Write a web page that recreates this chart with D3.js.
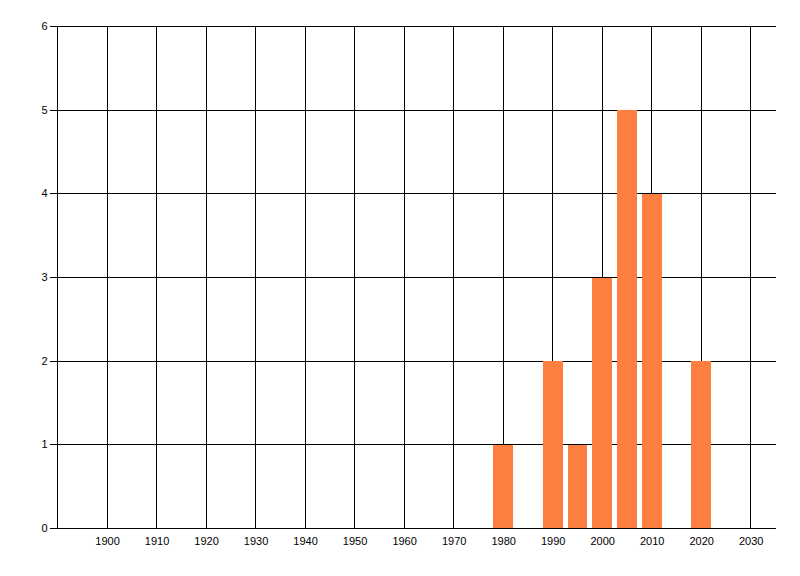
<!DOCTYPE html>
<html lang="en">
<head>
<meta charset="UTF-8">
<title>Count by year</title>
<script src="https://d3js.org/d3.v7.min.js"></script>
<style>
    body { margin: 0; background: #fff; }
    .tick text { font-family: "Liberation Sans", Arial, sans-serif; font-size: 11px; fill: #000; }
    .grid line { stroke: #000; stroke-width: 1; shape-rendering: crispEdges; }
    .bar { fill: #ff7f41; shape-rendering: crispEdges; }
</style>
</head>
<body>
<svg id="chart" width="800" height="576"></svg>
<script>
    // data
    const years = [1980, 1990, 1995, 2000, 2005, 2010, 2020];
    const counts = [1, 2, 1, 3, 5, 4, 2];
    const xTicks = [1900, 1910, 1920, 1930, 1940, 1950, 1960, 1970, 1980, 1990, 2000, 2010, 2020, 2030];
    const yTicks = [0, 1, 2, 3, 4, 5, 6];
    const barYears = 4;

    const data = years.map((yr, i) => ({year: yr, value: counts[i]}));

    const svg = d3.select("#chart");

    const x = d3.scaleLinear()
        .domain([1890, 2035])
        .range([57.5, 775.5]);

    const y = d3.scaleLinear()
        .domain([0, 6])
        .range([528.5, 26.5]);

    const px = v => Math.round(x(v) - 0.5) + 0.5;
    const py = v => Math.round(y(v) - 0.5) + 0.5;

    // grid
    const grid = svg.append("g").attr("class", "grid");

    grid.selectAll(".vline")
        .data([1890].concat(xTicks))
        .enter().append("line")
        .attr("x1", d => px(d))
        .attr("x2", d => px(d))
        .attr("y1", py(6))
        .attr("y2", py(0));

    grid.selectAll(".hline")
        .data(yTicks.filter(d => d > 0))
        .enter().append("line")
        .attr("x1", px(1890))
        .attr("x2", x(2035))
        .attr("y1", d => py(d))
        .attr("y2", d => py(d));

    // bars
    svg.selectAll(".bar")
        .data(data)
        .enter().append("rect")
        .attr("class", "bar")
        .attr("x", d => Math.round(x(d.year - barYears / 2)))
        .attr("width", d => Math.round(x(d.year + barYears / 2)) - Math.round(x(d.year - barYears / 2)))
        .attr("y", d => Math.round(y(d.value)))
        .attr("height", d => Math.round(y(0)) - Math.round(y(d.value)));

    // baseline drawn over the bars
    svg.append("g").attr("class", "grid")
        .append("line")
        .attr("x1", px(1890))
        .attr("x2", x(2035))
        .attr("y1", py(0))
        .attr("y2", py(0));

    // axes
    const yAxis = svg.append("g")
        .attr("transform", `translate(${px(1890)},0)`)
        .call(d3.axisLeft(y).tickValues(yTicks).tickFormat(d3.format("d")).tickSize(8).tickPadding(2));
    yAxis.select(".domain").remove();
    yAxis.selectAll(".tick").attr("transform", d => `translate(0,${py(d)})`);
    yAxis.selectAll(".tick line").attr("stroke", "#000").attr("shape-rendering", "crispEdges");

    const xAxis = svg.append("g")
        .attr("transform", `translate(0,${py(0)})`)
        .call(d3.axisBottom(x).tickValues(xTicks).tickFormat(d3.format("d")).tickSize(0).tickPadding(9));
    xAxis.select(".domain").remove();
</script>
</body>
</html>
